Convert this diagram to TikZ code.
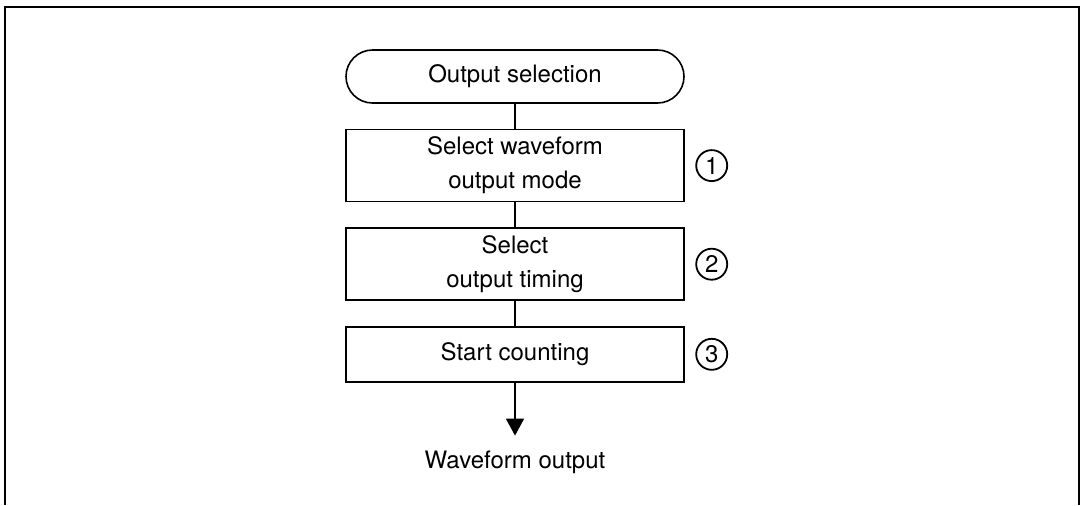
\documentclass[tikz,border=0pt]{standalone}
\usepackage{fontspec}
\setmainfont{TeX Gyre Heros}
\usetikzlibrary{positioning,arrows.meta,shapes.misc}

\begin{document}
\begin{tikzpicture}[>={Triangle[width=9pt,length=8.5pt]}, node distance=12.5pt,
  font=\fontsize{12}{17}\selectfont]
  \tikzset{
    stepbox/.style={draw, line width=0.8pt, minimum width=169pt,
                    align=center, inner sep=0pt},
    numcirc/.style={draw, circle, line width=0.9pt, minimum size=15.5pt,
                    inner sep=0pt, font=\fontsize{12}{12}\selectfont}
  }
  \useasboundingbox (0,0) rectangle (540pt,-252.5pt);
  % outer frame, open at the bottom
  \draw[line width=1.1pt] (2.5pt,-252.5pt) -- (2.5pt,-3.5pt) -- (539.5pt,-3.5pt)
    -- (539.5pt,-252.5pt);

  \node (start) [stepbox, rounded rectangle, minimum height=26.5pt]
    at (257.5pt,-38.25pt) {Output selection};
  \node (mode) [stepbox, minimum height=36pt, below=of start]
    {Select waveform\\output mode};
  \node (timing) [stepbox, minimum height=36pt, below=of mode]
    {Select\\output timing};
  \node (count) [stepbox, minimum height=27.5pt, below=of timing]
    {Start counting};
  \coordinate [below=26.5pt of count] (tip);
  \node (wave) [below=4pt of tip] {Waveform output};

  \node (n1) [numcirc, right=5.25pt of mode] {1};
  \node (n2) [numcirc, right=5.25pt of timing] {2};
  \node (n3) [numcirc, right=5.25pt of count] {3};

  \draw[line width=0.8pt] (start) -- (mode);
  \draw[line width=0.8pt] (mode) -- (timing);
  \draw[line width=0.8pt] (timing) -- (count);
  \draw[->, line width=0.8pt] (count) -- (tip);
\end{tikzpicture}
\end{document}
